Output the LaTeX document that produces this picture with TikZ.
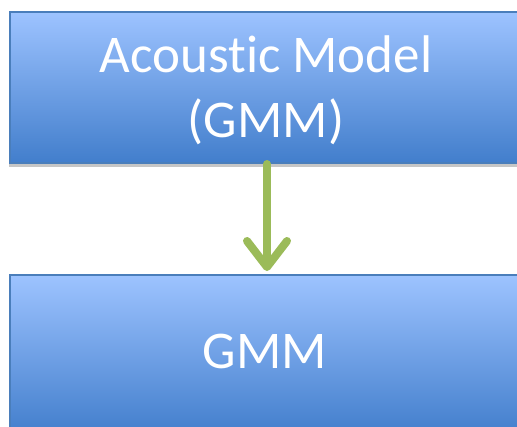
\documentclass[tikz,border=0pt]{standalone}
\usepackage{fontspec}
\setmainfont[Ligatures=NoCommon]{Carlito}
\usetikzlibrary{arrows.meta}
\definecolor{boxtop}{RGB}{157,195,255}
\definecolor{boxbot}{RGB}{66,126,204}
\definecolor{boxedge}{RGB}{74,126,187}
\definecolor{arrowgreen}{RGB}{155,187,89}
\tikzset{
  blockbox/.style={draw=boxedge, line width=2pt, top color=boxtop, bottom color=boxbot,
    minimum width=520pt, inner sep=0pt, anchor=north west},
  blocktext/.style={text=white, font=\fontsize{53}{65}\selectfont, anchor=base, inner sep=0pt},
  flowarrow/.style={draw=arrowgreen, line width=8pt, line cap=round,
    -{Straight Barb[length=26pt, width=40pt, line width=8pt, round]}}
}
\begin{document}
\begin{tikzpicture}[x=1pt,y=-1pt]
  \useasboundingbox (0,0) rectangle (517,426);
  % soft shadow under the upper block
  \fill[gray!45] (9,162) rectangle (530,167);
  \node[blockbox, minimum height=151pt] (am) at (9,11) {};
  \node[blockbox, minimum height=160pt] (gmm) at (9,274) {};
  \node[blocktext] (amline1) at (266,72) {Acoustic Model};
  \node[blocktext] (amline2) at (266,137) {(GMM)};
  \node[blocktext] (gmmtext) at (265,368) {GMM};
  \coordinate (astart) at (267,164);
  \coordinate (aend) at (267,271);
  \draw[flowarrow] (astart) -- (aend);
\end{tikzpicture}
\end{document}
